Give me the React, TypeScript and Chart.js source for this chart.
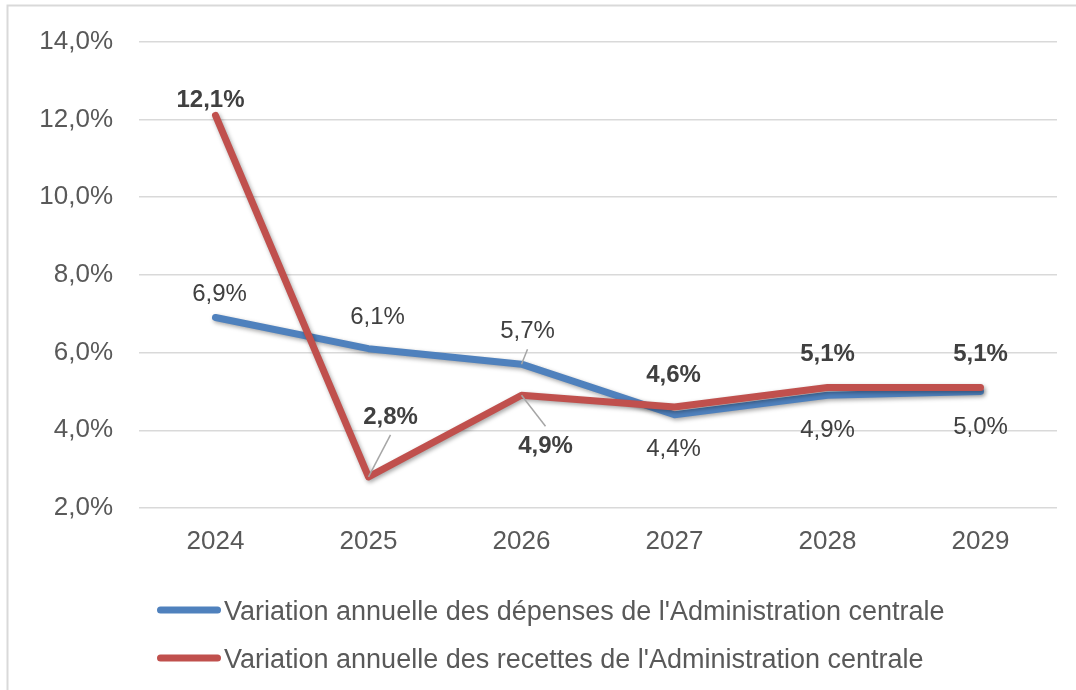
import React, { useEffect, useRef } from "react";
import { Chart, registerables } from "chart.js";

Chart.register(...registerables);

const categories = ["2024", "2025", "2026", "2027", "2028", "2029"];
const depenses = [6.9, 6.1, 5.7, 4.4, 4.9, 5.0];
const recettes = [12.1, 2.8, 4.9, 4.6, 5.1, 5.1];
const seriesNames = [
  "Variation annuelle des dépenses de l'Administration centrale",
  "Variation annuelle des recettes de l'Administration centrale",
];
const yMin = 2;
const yMax = 14;
const yStep = 2;

const BLUE = "#4F81BD";
const RED = "#C0504D";
const FONT = "'Liberation Sans', Arial, sans-serif";

// label placement relative to the point (dx, dy) and leader-line flags
const depensesLabelOffsets = [[4, -23], [9, -31], [6, -33], [-1, 35], [0, 35], [0, 36]];
const depensesLeaders = [false, false, true, false, false, false];
const recettesLabelOffsets = [[-5, -15], [22, -60], [24, 51], [-1, -32], [0, -33], [0, -33]];
const recettesLeaders = [false, true, true, false, false, false];

const fmt = (v: number) => v.toFixed(1).replace(".", ",") + "%";

const bgPlugin = {
  id: "bgBorder",
  beforeDraw(chart: any) {
    const ctx = chart.ctx;
    ctx.save();
    ctx.fillStyle = "#ffffff";
    ctx.fillRect(0, 0, chart.width, chart.height);
    ctx.strokeStyle = "#d9d9d9";
    ctx.lineWidth = 2;
    ctx.beginPath();
    ctx.moveTo(chart.width, 5.5);
    ctx.lineTo(7.5, 5.5);
    ctx.lineTo(7.5, chart.height);
    ctx.stroke();
    ctx.restore();
  },
};

const shadowPlugin = {
  id: "lineShadow",
  beforeDatasetDraw(chart: any) {
    const ctx = chart.ctx;
    ctx.save();
    ctx.shadowColor = "rgba(0,0,0,0.35)";
    ctx.shadowBlur = 4;
    ctx.shadowOffsetX = 1.5;
    ctx.shadowOffsetY = 2;
  },
  afterDatasetDraw(chart: any) {
    chart.ctx.restore();
  },
};

const labelPlugin = {
  id: "valueLabels",
  afterDatasetsDraw(chart: any) {
    const ctx = chart.ctx;
    const configs = [
      { offsets: depensesLabelOffsets, leaders: depensesLeaders, bold: false },
      { offsets: recettesLabelOffsets, leaders: recettesLeaders, bold: true },
    ];
    chart.data.datasets.forEach((ds: any, di: number) => {
      const meta = chart.getDatasetMeta(di);
      const cfg = configs[di];
      meta.data.forEach((pt: any, i: number) => {
        const [dx, dy] = cfg.offsets[i];
        const lx = pt.x + dx;
        const ly = pt.y + dy;
        if (cfg.leaders[i]) {
          ctx.save();
          ctx.strokeStyle = "#a6a6a6";
          ctx.lineWidth = 1.5;
          ctx.beginPath();
          ctx.moveTo(pt.x, pt.y);
          ctx.lineTo(lx, ly + (dy < 0 ? 18 : -20));
          ctx.stroke();
          ctx.restore();
        }
        ctx.save();
        ctx.font = (cfg.bold ? "bold " : "") + "24px " + FONT;
        ctx.fillStyle = "#404040";
        ctx.textAlign = "center";
        ctx.textBaseline = "middle";
        ctx.fillText(fmt(ds.data[i]), lx, ly);
        ctx.restore();
      });
    });
  },
};

const legendPlugin = {
  id: "customLegend",
  afterDraw(chart: any) {
    const ctx = chart.ctx;
    const colors = [BLUE, RED];
    const baseY = [610, 658];
    ctx.save();
    seriesNames.forEach((name, i) => {
      ctx.strokeStyle = colors[i];
      ctx.lineWidth = 7;
      ctx.lineCap = "round";
      ctx.beginPath();
      ctx.moveTo(160.5, baseY[i]);
      ctx.lineTo(217.5, baseY[i]);
      ctx.stroke();
      ctx.font = "27px " + FONT;
      ctx.fillStyle = "#595959";
      ctx.textAlign = "left";
      ctx.textBaseline = "alphabetic";
      ctx.fillText(name, 224, baseY[i] + 10);
    });
    ctx.restore();
  },
};

export default function App() {
  const ref = useRef<HTMLCanvasElement | null>(null);
  useEffect(() => {
    if (!ref.current) return;
    const chart = new Chart(ref.current, {
      type: "line",
      data: {
        labels: categories,
        datasets: [
          {
            label: seriesNames[0],
            data: depenses,
            borderColor: BLUE,
            backgroundColor: BLUE,
            borderWidth: 7,
            pointRadius: 0,
            tension: 0,
            borderCapStyle: "round",
            borderJoinStyle: "round",
            order: 2,
          },
          {
            label: seriesNames[1],
            data: recettes,
            borderColor: RED,
            backgroundColor: RED,
            borderWidth: 7,
            pointRadius: 0,
            tension: 0,
            borderCapStyle: "round",
            borderJoinStyle: "round",
            order: 1,
          },
        ],
      },
      options: {
        responsive: false,
        animation: false,
        layout: { padding: { top: 38, right: 19, bottom: 132, left: 0 } },
        plugins: {
          legend: { display: false },
          tooltip: { enabled: false },
        },
        scales: {
          x: {
            offset: true,
            grid: { display: false, drawTicks: false },
            border: { display: false },
            ticks: {
              color: "#595959",
              font: { family: FONT, size: 26 },
              padding: 18,
              maxRotation: 0,
            },
            afterFit(scale: any) {
              scale.height = 50;
            },
          },
          y: {
            min: yMin,
            max: yMax,
            grid: { color: "#d9d9d9", lineWidth: 1.5, drawTicks: false },
            border: { display: false },
            ticks: {
              stepSize: yStep,
              color: "#595959",
              font: { family: FONT, size: 26 },
              padding: 26,
              callback: (v: any) => fmt(Number(v)),
            },
            afterFit(scale: any) {
              scale.width = 139;
            },
          },
        },
      },
      plugins: [bgPlugin, shadowPlugin, labelPlugin, legendPlugin],
    } as any);
    return () => chart.destroy();
  }, []);
  return (
    <div style={{ position: "fixed", left: 0, top: 0, width: 1076, height: 690 }}>
      <canvas ref={ref} width={1076} height={690} style={{ width: 1076, height: 690, display: "block" }} />
    </div>
  );
}
